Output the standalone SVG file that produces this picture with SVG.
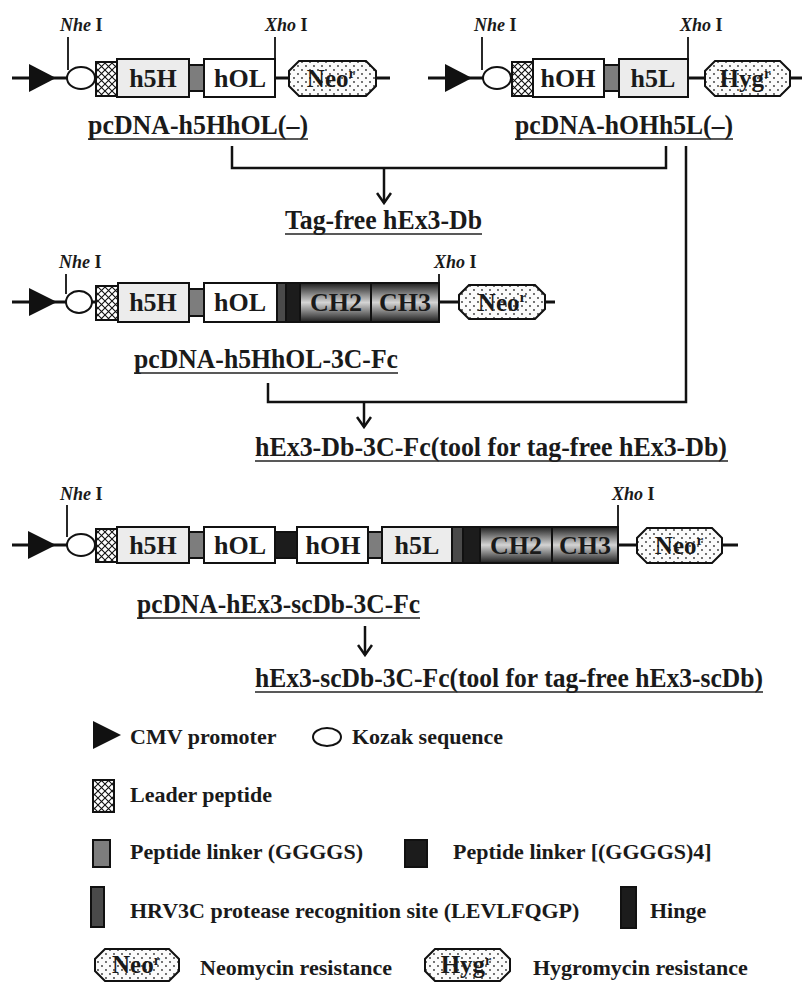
<svg xmlns="http://www.w3.org/2000/svg" width="803" height="983" viewBox="0 0 803 983">
<style>
.bb{stroke:#111;stroke-width:3;fill:none}
.bx{stroke:#111;stroke-width:2}
.lg{fill:#ececec}
.wh{fill:#fff}
.gl{fill:#7d7d7d}
.bl{fill:#1c1c1c}
.c3{fill:#4a4a4a}
.ch{fill:url(#chg)}
.ht{fill:url(#hatch)}
.dt{fill:url(#dots)}
.t{font-family:"Liberation Serif","Times New Roman",serif;font-weight:bold;fill:#1a1a1a}
.lbl{font-size:27px}
.seg{font-size:26px;text-anchor:middle}
.res{font-size:25px;text-anchor:middle}
.site{font-size:18px}
.leg{font-size:22px}
.ul{stroke:#222;stroke-width:1.6}
.cn{stroke:#111;stroke-width:2.5;fill:none}
.ar{stroke:#111;stroke-width:2.5;fill:none;marker-end:url(#ah)}
.tick{stroke:#111;stroke-width:1.8}
</style>
<defs>
<pattern id="hatch" width="7" height="7" patternUnits="userSpaceOnUse">
<rect width="7" height="7" fill="#fff"/>
<path d="M0,0 L7,7 M7,0 L0,7" stroke="#111" stroke-width="1.1"/>
</pattern>
<pattern id="dots" width="8" height="8" patternUnits="userSpaceOnUse">
<rect width="8" height="8" fill="#fbfbfb"/>
<circle cx="2" cy="2" r="0.9" fill="#333"/>
<circle cx="6" cy="6" r="0.9" fill="#333"/>
</pattern>
<linearGradient id="chg" x1="0" y1="0" x2="0" y2="1">
<stop offset="0" stop-color="#1e1e1e"/>
<stop offset="0.5" stop-color="#d4d4d4"/>
<stop offset="1" stop-color="#1e1e1e"/>
</linearGradient>
<marker id="ah" viewBox="-11 -8 13 16" refX="0" refY="0" markerWidth="13" markerHeight="16" markerUnits="userSpaceOnUse" orient="auto">
<path d="M-10,-7 L0,0 L-10,7" fill="none" stroke="#111" stroke-width="2.5"/>
</marker>
</defs>

<g id="connectors">
<path class="cn" d="M232,146 V168 H666 V146"/>
<path class="ar" d="M384,168 V203"/>
<path class="cn" d="M686,146 V402 H268 V383"/>
<path class="ar" d="M364,402 V427"/>
<path class="ar" d="M365,626 V655"/>
</g>

<g id="construct-h5HhOL">
<line class="bb" x1="12" y1="78" x2="390" y2="78"/>
<polygon points="29,64 56,78 29,92" fill="#111"/>
<line class="tick" x1="68" y1="37" x2="68" y2="70"/>
<text class="t site" x="60" y="31"><tspan font-style="italic">Nhe</tspan> I</text>
<ellipse cx="81" cy="78" rx="14" ry="11" fill="#fff" stroke="#111" stroke-width="2"/>
<rect class="bx ht" x="96" y="62" width="21" height="34"/>
<rect class="bx lg" x="117" y="59" width="72" height="38"/>
<rect class="bx gl" x="189" y="65" width="15" height="26"/>
<rect class="bx wh" x="204" y="59" width="71" height="38"/>
<line class="tick" x1="275" y1="37" x2="275" y2="59"/>
<text class="t site" x="265" y="31"><tspan font-style="italic">Xho</tspan> I</text>
<polygon class="bx dt" points="299,61 366,61 376,71 376,86 366,96 299,96 289,86 289,71"/>
<text class="t seg" x="153" y="87">h5H</text>
<text class="t seg" x="240" y="87">hOL</text>
<text class="t res" x="331" y="87">Neo<tspan font-size="15" dy="-9">r</tspan></text>
<text class="t lbl" x="88" y="134" textLength="220" lengthAdjust="spacingAndGlyphs">pcDNA-h5HhOL(–)</text>
<line class="ul" x1="88" y1="139" x2="308" y2="139"/>
</g>

<g id="construct-hOHh5L">
<line class="bb" x1="428" y1="78" x2="802" y2="78"/>
<polygon points="445,64 472,78 445,92" fill="#111"/>
<line class="tick" x1="482" y1="37" x2="482" y2="70"/>
<text class="t site" x="474" y="31"><tspan font-style="italic">Nhe</tspan> I</text>
<ellipse cx="497" cy="78" rx="14" ry="11" fill="#fff" stroke="#111" stroke-width="2"/>
<rect class="bx ht" x="512" y="62" width="21" height="34"/>
<rect class="bx wh" x="533" y="59" width="71" height="38"/>
<rect class="bx gl" x="604" y="65" width="15" height="26"/>
<rect class="bx lg" x="619" y="59" width="69" height="38"/>
<line class="tick" x1="688" y1="37" x2="688" y2="59"/>
<text class="t site" x="680" y="31"><tspan font-style="italic">Xho</tspan> I</text>
<polygon class="bx dt" points="715,61 780,61 790,71 790,86 780,96 715,96 705,86 705,71"/>
<text class="t seg" x="568" y="87">hOH</text>
<text class="t seg" x="653" y="87">h5L</text>
<text class="t res" x="745" y="87">Hyg<tspan font-size="15" dy="-9">r</tspan></text>
<text class="t lbl" x="515" y="134" textLength="218" lengthAdjust="spacingAndGlyphs">pcDNA-hOHh5L(–)</text>
<line class="ul" x1="515" y1="139" x2="733" y2="139"/>
</g>

<g id="product-tagfree-db">
<text class="t lbl" x="285" y="229" textLength="197" lengthAdjust="spacingAndGlyphs">Tag-free hEx3-Db</text>
<line class="ul" x1="285" y1="234" x2="482" y2="234"/>
</g>

<g id="construct-h5HhOL-3C-Fc">
<line class="bb" x1="12" y1="302" x2="555" y2="302"/>
<polygon points="29,288 57,302 29,316" fill="#111"/>
<line class="tick" x1="66" y1="274" x2="66" y2="294"/>
<text class="t site" x="59" y="268"><tspan font-style="italic">Nhe</tspan> I</text>
<ellipse cx="79" cy="302" rx="13" ry="11" fill="#fff" stroke="#111" stroke-width="2"/>
<rect class="bx ht" x="96" y="286" width="22" height="34"/>
<rect class="bx lg" x="118" y="283" width="71" height="39"/>
<rect class="bx gl" x="189" y="289" width="15" height="27"/>
<rect class="bx wh" x="204" y="283" width="73" height="39"/>
<rect class="bx c3" x="277" y="283" width="9" height="39"/>
<rect class="bx bl" x="286" y="283" width="14" height="39"/>
<rect class="bx ch" x="300" y="283" width="71" height="39"/>
<rect class="bx ch" x="371" y="283" width="68" height="39"/>
<line class="tick" x1="439" y1="274" x2="439" y2="283"/>
<text class="t site" x="434" y="268"><tspan font-style="italic">Xho</tspan> I</text>
<polygon class="bx dt" points="469,285 535,285 545,295 545,309 535,319 469,319 459,309 459,295"/>
<text class="t seg" x="153" y="311">h5H</text>
<text class="t seg" x="240" y="311">hOL</text>
<text class="t seg" x="336" y="311">CH2</text>
<text class="t seg" x="405" y="311">CH3</text>
<text class="t res" x="502" y="311">Neo<tspan font-size="15" dy="-9">r</tspan></text>
<text class="t lbl" x="134" y="368" textLength="264" lengthAdjust="spacingAndGlyphs">pcDNA-h5HhOL-3C-Fc</text>
<line class="ul" x1="134" y1="373" x2="398" y2="373"/>
</g>

<g id="product-db-3c-fc">
<text class="t lbl" x="255" y="456" textLength="472" lengthAdjust="spacingAndGlyphs">hEx3-Db-3C-Fc(tool for tag-free hEx3-Db)</text>
<line class="ul" x1="255" y1="461" x2="728" y2="461"/>
</g>

<g id="construct-hEx3-scDb-3C-Fc">
<line class="bb" x1="12" y1="545" x2="738" y2="545"/>
<polygon points="28,531 56,545 28,559" fill="#111"/>
<line class="tick" x1="67" y1="505" x2="67" y2="537"/>
<text class="t site" x="60" y="500"><tspan font-style="italic">Nhe</tspan> I</text>
<ellipse cx="81" cy="545" rx="14" ry="11" fill="#fff" stroke="#111" stroke-width="2"/>
<rect class="bx ht" x="96" y="529" width="21" height="33"/>
<rect class="bx lg" x="117" y="527" width="72" height="36"/>
<rect class="bx gl" x="189" y="532" width="15" height="26"/>
<rect class="bx wh" x="204" y="527" width="71" height="36"/>
<rect class="bx bl" x="275" y="532" width="22" height="26"/>
<rect class="bx wh" x="297" y="527" width="71" height="36"/>
<rect class="bx gl" x="368" y="532" width="14" height="26"/>
<rect class="bx lg" x="382" y="527" width="70" height="36"/>
<rect class="bx c3" x="452" y="527" width="11" height="36"/>
<rect class="bx bl" x="463" y="527" width="17" height="36"/>
<rect class="bx ch" x="480" y="527" width="72" height="36"/>
<rect class="bx ch" x="552" y="527" width="66" height="36"/>
<line class="tick" x1="618" y1="505" x2="618" y2="527"/>
<text class="t site" x="612" y="500"><tspan font-style="italic">Xho</tspan> I</text>
<polygon class="bx dt" points="647,528 712,528 722,538 722,553 712,563 647,563 637,553 637,538"/>
<text class="t seg" x="153" y="554">h5H</text>
<text class="t seg" x="240" y="554">hOL</text>
<text class="t seg" x="333" y="554">hOH</text>
<text class="t seg" x="417" y="554">h5L</text>
<text class="t seg" x="516" y="554">CH2</text>
<text class="t seg" x="585" y="554">CH3</text>
<text class="t res" x="679" y="554">Neo<tspan font-size="15" dy="-9">r</tspan></text>
<text class="t lbl" x="137" y="613" textLength="283" lengthAdjust="spacingAndGlyphs">pcDNA-hEx3-scDb-3C-Fc</text>
<line class="ul" x1="137" y1="618" x2="420" y2="618"/>
</g>

<g id="product-scdb-3c-fc">
<text class="t lbl" x="255" y="687" textLength="508" lengthAdjust="spacingAndGlyphs">hEx3-scDb-3C-Fc(tool for tag-free hEx3-scDb)</text>
<line class="ul" x1="255" y1="692" x2="763" y2="692"/>
</g>

<g id="legend">
<g id="leg-cmv">
<polygon points="93,721 121,735 93,749" fill="#111"/>
<text class="t leg" x="130" y="744">CMV promoter</text>
</g>
<g id="leg-kozak">
<ellipse cx="327" cy="737" rx="14" ry="9" fill="#fff" stroke="#111" stroke-width="2"/>
<text class="t leg" x="352" y="744">Kozak sequence</text>
</g>
<g id="leg-leader">
<rect class="bx ht" x="93" y="780" width="21" height="32"/>
<text class="t leg" x="130" y="802">Leader peptide</text>
</g>
<g id="leg-linker">
<rect class="bx gl" x="93" y="840" width="17" height="27"/>
<text class="t leg" x="130" y="859">Peptide linker (GGGGS)</text>
</g>
<g id="leg-linker4">
<rect class="bx bl" x="405" y="840" width="22" height="27"/>
<text class="t leg" x="453" y="859">Peptide linker [(GGGGS)4]</text>
</g>
<g id="leg-3c">
<rect class="bx c3" x="91" y="887" width="13" height="40"/>
<text class="t leg" x="130" y="918">HRV3C protease recognition site (LEVLFQGP)</text>
</g>
<g id="leg-hinge">
<rect class="bx bl" x="621" y="887" width="15" height="41"/>
<text class="t leg" x="650" y="918">Hinge</text>
</g>
<g id="leg-neo">
<polygon class="bx dt" points="105,949 169,949 179,959 179,971 169,981 105,981 95,971 95,959"/>
<text class="t res" x="136" y="973">Neo<tspan font-size="14" dy="-8">r</tspan></text>
<text class="t leg" x="200" y="975">Neomycin resistance</text>
</g>
<g id="leg-hyg">
<polygon class="bx dt" points="435,949 500,949 510,959 510,971 500,981 435,981 425,971 425,959"/>
<text class="t res" x="466" y="973">Hyg<tspan font-size="14" dy="-8">r</tspan></text>
<text class="t leg" x="533" y="975">Hygromycin resistance</text>
</g>
</g>
</svg>
